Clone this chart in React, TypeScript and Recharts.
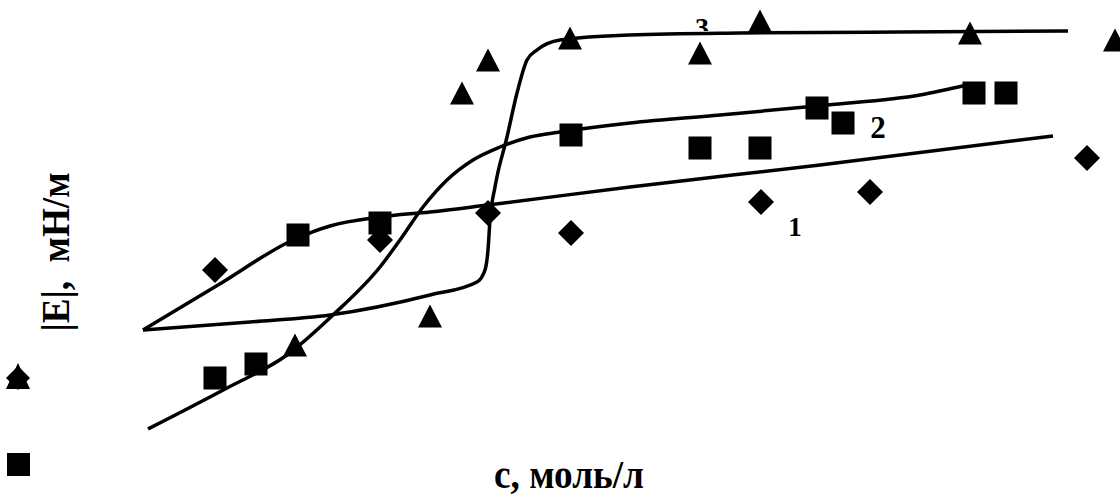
import { ComposedChart, Line, Scatter, XAxis, YAxis, ReferenceDot } from "recharts"

// curve 1 (diamonds), curve 2 (squares), curve 3 (triangles)
const diamonds = [[9.5, 19.0], [26, 22], [36.8, 24.7], [45.1, 22.7], [64.1, 25.8], [75, 26.8], [96.7, 30.2]]
const squares = [[9.5, 8.2], [13.6, 9.6], [17.8, 22.5], [26, 23.7], [45.1, 32.5], [58, 31.2], [64, 31.2], [69.7, 35.2], [72.3, 33.7], [85.4, 36.7], [88.6, 36.7]]
const triangles = [[17.5, 11.3], [31, 14.2], [34.2, 36.5], [36.8, 39.8], [45, 42], [58, 40.5], [64, 43.7], [85, 42.5], [99.5, 41.8]]

const curve1 = [[2.3, 13], [9.8, 17.5], [17.3, 22], [21, 23.4], [26, 24.3], [31, 24.8], [36.8, 25.5], [51, 27.3], [70, 29.5], [93.3, 32.4]]
const curve2 = [[2.8, 3.1], [10.7, 7.2], [16.7, 10.5], [21.3, 14.5], [26, 19.3], [28, 22], [30.3, 25.3], [32.7, 28], [35.3, 30], [38, 31.3], [41, 32.3], [44, 32.8], [51, 33.7], [60, 34.5], [70.7, 35.5], [80, 36.5], [84.7, 37.5]]
const curve3 = [[2.3, 13], [13, 13.8], [21, 14.5], [31, 16.5], [35.7, 17.8], [36.5, 19], [36.8, 21], [37, 24], [37.5, 27.3], [38.7, 32.3], [39.7, 36.7], [40.7, 40], [41.7, 41], [44, 42], [51, 42.5], [62, 42.7], [78, 42.8], [94.8, 42.9]]

// label positions are baselines; "3" is half hidden under its curve like in the source
const curveLabels = [
    { text: "1", x: 67.5, y: 22.4, size: 27, clip: 0 },
    { text: "2", x: 75.8, y: 32.2, size: 31, clip: 0 },
    { text: "3", x: 58.2, y: 42.3, size: 28, clip: 6 },
]

const toPts = (arr: number[][]) => arr.map(([x, y]) => ({ x, y }))

const FONT = "'Liberation Serif', 'Times New Roman', serif"

const Diamond = (p: any) => (
    <polygon points={`${p.cx},${p.cy - 13} ${p.cx + 13},${p.cy} ${p.cx},${p.cy + 13} ${p.cx - 13},${p.cy}`} fill="#000" />
)
const Square = (p: any) => <rect x={p.cx - 11.5} y={p.cy - 11.5} width={23} height={23} fill="#000" />
const Triangle = (p: any) => (
    <polygon points={`${p.cx},${p.cy - 13.5} ${p.cx + 12},${p.cy + 9.5} ${p.cx - 12},${p.cy + 9.5}`} fill="#000" />
)

export default function App() {
    return (
        <div style={{ position: "absolute", left: 0, top: 0, width: 1120, height: 497, background: "#fff" }}>
            <ComposedChart width={1120} height={497} margin={{ top: 0, right: 0, left: 120, bottom: 37 }}>
                <XAxis type="number" dataKey="x" domain={[0, 100]} hide />
                <YAxis type="number" dataKey="y" domain={[0, 46]} hide />
                <Line data={toPts(curve1)} dataKey="y" type="monotone" stroke="#000" strokeWidth={3.5} dot={false} isAnimationActive={false} />
                <Line data={toPts(curve2)} dataKey="y" type="monotone" stroke="#000" strokeWidth={3.5} dot={false} isAnimationActive={false} />
                <Line data={toPts(curve3)} dataKey="y" type="monotone" stroke="#000" strokeWidth={3.5} dot={false} isAnimationActive={false} />
                <Scatter data={toPts(diamonds)} shape={Diamond} isAnimationActive={false} />
                <Scatter data={toPts(squares)} shape={Square} isAnimationActive={false} />
                <Scatter data={toPts(triangles)} shape={Triangle} isAnimationActive={false} />
                {curveLabels.map((l) => (
                    <ReferenceDot
                        key={l.text}
                        x={l.x}
                        y={l.y}
                        r={0}
                        shape={(p: any) => (
                            <g>
                                {l.clip > 0 && (
                                    <defs>
                                        <clipPath id={"clip-" + l.text}>
                                            <rect x={p.cx - 20} y={p.cy - 40} width={40} height={40 - l.clip} />
                                        </clipPath>
                                    </defs>
                                )}
                                <text
                                    x={p.cx}
                                    y={p.cy}
                                    textAnchor="middle"
                                    fontFamily={FONT}
                                    fontWeight="bold"
                                    fontSize={l.size}
                                    fill="#000"
                                    clipPath={l.clip > 0 ? `url(#clip-${l.text})` : undefined}
                                >
                                    {l.text}
                                </text>
                            </g>
                        )}
                    />
                ))}
            </ComposedChart>
            <div style={{ position: "absolute", left: 0, top: 0, width: 1120, height: 497, pointerEvents: "none" }}>
                <svg width={1120} height={497}>
                    {/* stray legend keys at the left edge */}
                    <polygon points="18,366 30,378 18,390 6,378" fill="#000" />
                    <polygon points="18,363 30,389 6,389" fill="#000" />
                    <rect x={7} y={453} width={23} height={23} fill="#000" />
                    <text
                        x={69}
                        y={252}
                        transform="rotate(-90 69 252)"
                        textAnchor="middle"
                        fontFamily={FONT}
                        fontWeight="bold"
                        fontSize={40}
                        textLength={159}
                        lengthAdjust="spacingAndGlyphs"
                        fill="#000"
                        style={{ whiteSpace: "pre" }}
                    >
                        {"|E|,  мН/м"}
                    </text>
                    <text x={569} y={488} textAnchor="middle" fontFamily={FONT} fontWeight="bold" fontSize={40} textLength={150} lengthAdjust="spacingAndGlyphs" fill="#000">
                        с, моль/л
                    </text>
                </svg>
            </div>
        </div>
    )
}
